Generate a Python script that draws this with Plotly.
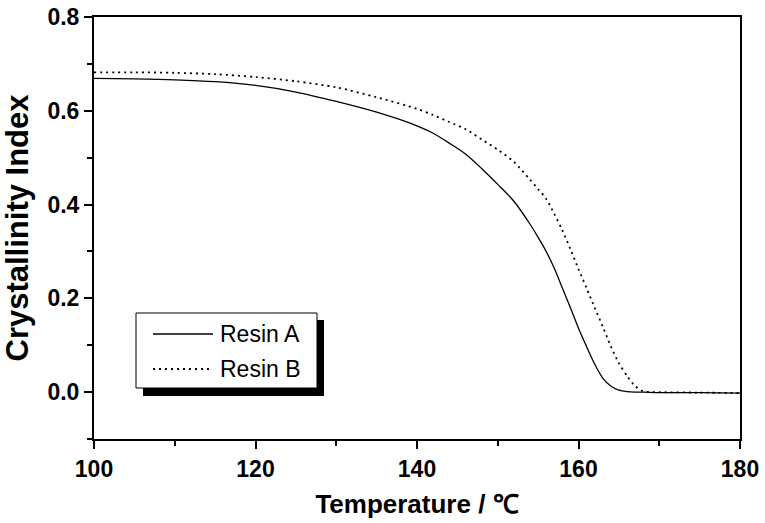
import plotly.graph_objects as go

# ---- data ----
temperature = [100, 105, 110, 115, 120, 125, 130, 135, 140, 142, 144, 146, 148, 150,
               152, 154, 155, 156, 157, 158, 159, 160, 161, 162, 163, 164, 165, 166,
               167, 168, 170, 175, 180]
resin_a = [0.669, 0.668, 0.666, 0.662, 0.654, 0.640, 0.620, 0.597, 0.568, 0.552, 0.531,
           0.508, 0.477, 0.443, 0.407, 0.358, 0.330, 0.300, 0.264, 0.222, 0.180, 0.136,
           0.097, 0.060, 0.030, 0.013, 0.004, 0.001, 0.000, 0.000, -0.001, -0.001, -0.002]
resin_b = [0.682, 0.682, 0.681, 0.678, 0.672, 0.663, 0.650, 0.629, 0.604, 0.591, 0.576,
           0.561, 0.539, 0.517, 0.491, 0.453, 0.433, 0.412, 0.380, 0.345, 0.305, 0.262,
           0.222, 0.180, 0.140, 0.098, 0.062, 0.035, 0.013, 0.002, 0.000, -0.001, -0.002]
series_names = ["Resin A", "Resin B"]
x_ticks = [100, 120, 140, 160, 180]
x_title = "Temperature / ℃"
y_title = "Crystallinity Index"

# ---- geometry ----
W, H = 765, 523
ML, MR, MT, MB = 94, 25, 17, 84
PW, PH = W - ML - MR, H - MT - MB


def px(xp):
    return (xp - ML) / PW


def py(yp):
    return (H - MB - yp) / PH


FONT = "Liberation Sans, Arial, sans-serif"

fig = go.Figure()
fig.add_trace(go.Scatter(x=temperature, y=resin_a, mode="lines", name=series_names[0],
                         line=dict(color="black", width=1.3, shape="spline", smoothing=0.8),
                         showlegend=False))
fig.add_trace(go.Scatter(x=temperature, y=resin_b, mode="lines", name=series_names[1],
                         line=dict(color="black", width=1.8, dash="2px,4px", shape="spline",
                                   smoothing=0.8),
                         showlegend=False))

# ---- legend box with drop shadow (drawn manually) ----
shapes = [
    dict(type="rect", xref="paper", yref="paper", x0=px(143), x1=px(324), y0=py(396), y1=py(320),
         fillcolor="black", line=dict(width=0), layer="above"),
    dict(type="rect", xref="paper", yref="paper", x0=px(136), x1=px(317), y0=py(388), y1=py(313),
         fillcolor="white", line=dict(color="black", width=1), layer="above"),
    dict(type="line", xref="paper", yref="paper", x0=px(153), x1=px(213), y0=py(334), y1=py(334),
         line=dict(color="black", width=1.3), layer="above"),
    dict(type="line", xref="paper", yref="paper", x0=px(153), x1=px(213), y0=py(369), y1=py(369),
         line=dict(color="black", width=1.8, dash="2px,4px"), layer="above"),
]
annotations = [
    dict(xref="paper", yref="paper", x=px(218), y=py(334), text=series_names[0], showarrow=False,
         xanchor="left", yanchor="middle", font=dict(family=FONT, size=23, color="black")),
    dict(xref="paper", yref="paper", x=px(218), y=py(369), text=series_names[1], showarrow=False,
         xanchor="left", yanchor="middle", font=dict(family=FONT, size=23, color="black")),
]

fig.update_layout(
    width=W, height=H,
    margin=dict(l=ML, r=MR, t=MT, b=MB, pad=0, autoexpand=False),
    paper_bgcolor="white", plot_bgcolor="white",
    showlegend=False,
    shapes=shapes, annotations=annotations,
    font=dict(family=FONT, color="black"),
)
fig.update_xaxes(
    range=[100, 180], tickvals=x_ticks, ticks="outside", ticklen=8, tickwidth=1.5,
    tickcolor="black", showline=True, linewidth=2, linecolor="black", mirror=True,
    showgrid=False, zeroline=False, automargin=False,
    tickfont=dict(family=FONT, size=23, weight="bold", color="black"),
    minor=dict(dtick=10, tick0=100, ticks="outside", ticklen=5, tickwidth=1.5,
               tickcolor="black", showgrid=False),
    title=dict(text=x_title, font=dict(family=FONT, size=26, weight="bold", color="black"),
               standoff=14),
)
fig.update_yaxes(
    range=[-0.1, 0.8], tick0=0, dtick=0.2, tickformat=".1f", ticks="outside", ticklen=8,
    tickwidth=1.5, tickcolor="black", showline=True, linewidth=2, linecolor="black",
    mirror=True, showgrid=False, zeroline=False, automargin=False,
    tickfont=dict(family=FONT, size=23, weight="bold", color="black"),
    minor=dict(dtick=0.1, tick0=0, ticks="outside", ticklen=5, tickwidth=1.5,
               tickcolor="black", showgrid=False),
    title=dict(text=y_title, font=dict(family=FONT, size=31, weight="bold", color="black"),
               standoff=10),
)

fig.write_html("out.html", config={"displayModeBar": False},
               post_script="document.body.style.margin='0';")
